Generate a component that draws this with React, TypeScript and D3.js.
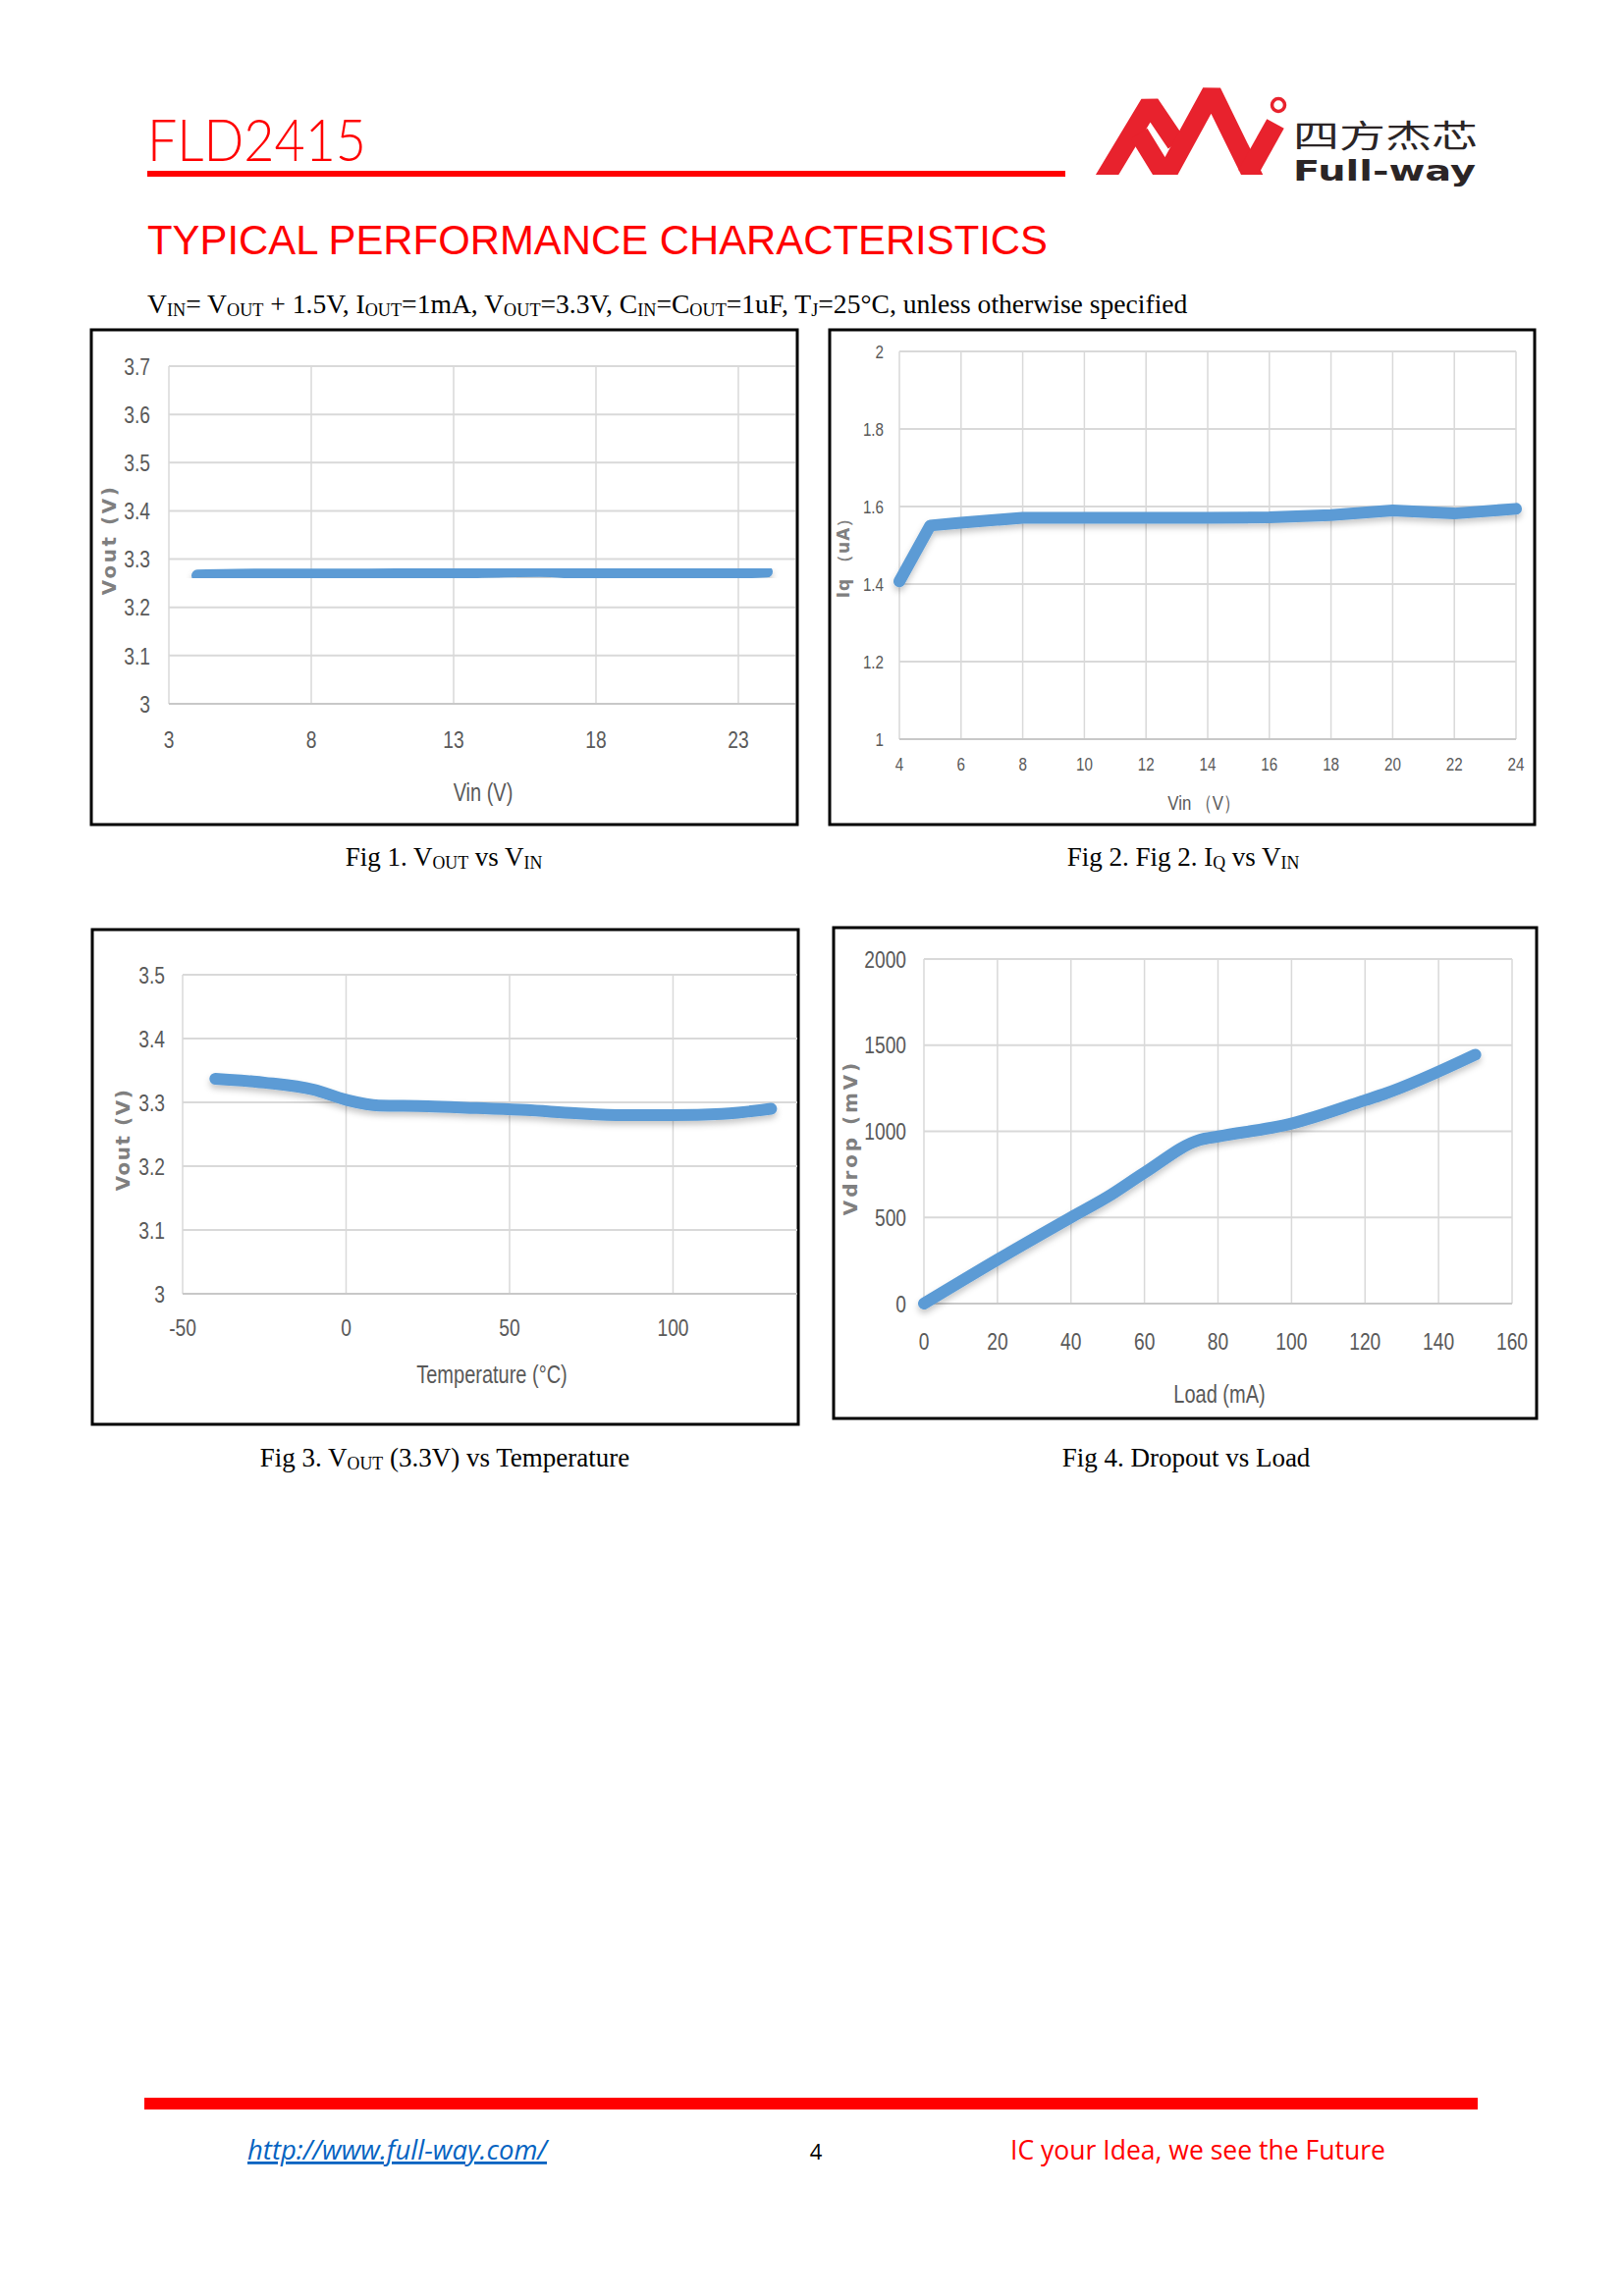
import { useMemo } from "react";
import * as d3 from "d3";

// Fig 1: Vout vs Vin
const fig1Vin = [4, 6, 8, 10, 12, 14, 16, 18, 20, 22, 24];
const fig1Vout = [3.266, 3.268, 3.268, 3.268, 3.269, 3.273, 3.275, 3.269, 3.269, 3.27, 3.274];
const fig1XTicks = [3, 8, 13, 18, 23];
const fig1YTicks = [3, 3.1, 3.2, 3.3, 3.4, 3.5, 3.6, 3.7];

// Fig 2: Iq vs Vin
const fig2Vin = [4, 5, 6, 8, 10, 12, 14, 16, 18, 20, 22, 24];
const fig2Iq = [1.407, 1.551, 1.558, 1.571, 1.571, 1.571, 1.571, 1.572, 1.578, 1.59, 1.582, 1.594];
const fig2XTicks = [4, 6, 8, 10, 12, 14, 16, 18, 20, 22, 24];
const fig2YTicks = [1, 1.2, 1.4, 1.6, 1.8, 2];

// Fig 3: Vout vs temperature
const fig3Temp = [-40, -25, -10, 0, 10, 25, 40, 55, 70, 85, 100, 115, 130];
const fig3Vout = [3.337, 3.331, 3.32, 3.304, 3.295, 3.294, 3.291, 3.288, 3.283, 3.28, 3.28, 3.282, 3.29];
const fig3XTicks = [-50, 0, 50, 100];
const fig3YTicks = [3, 3.1, 3.2, 3.3, 3.4, 3.5];

// Fig 4: dropout vs load
const fig4Load = [0, 20, 40, 50, 60, 75, 80, 100, 120, 125, 150];
const fig4Vdrop = [0, 255, 500, 620, 760, 950, 970, 1045, 1180, 1215, 1445];
const fig4XTicks = [0, 20, 40, 60, 80, 100, 120, 140, 160];
const fig4YTicks = [0, 500, 1000, 1500, 2000];

const TICK_FONT = "'Liberation Sans', Arial, sans-serif";
const LABEL_FONT = "'DejaVu Sans', Verdana, sans-serif";
const SERIF = "'Liberation Serif', 'Times New Roman', serif";
const GREY = "#595959";
const GRID = "#d9d9d9";
const BLUE = "#5b9bd5";
const NARROW = 0.8;

type Box = { x: number; y: number; w: number; h: number };
type Plot = { left: number; right: number; top: number; bottom: number };

// condensed text, squeezed horizontally like the original chart fonts
const CText = ({ x, y, anchor, size, children }: { x: number; y: number; anchor: string; size: number; children: any }) => (
  <text transform={`translate(${x},${y}) scale(${NARROW},1)`} dy="0.36em" textAnchor={anchor}
    fontFamily={TICK_FONT} fontSize={size} fill={GREY}>
    {children}
  </text>
);

type ChartProps = {
  box: Box;
  plot: Plot;
  xs: number[];
  ys: number[];
  xDomain: [number, number];
  yDomain: [number, number];
  xTicks: number[];
  yTicks: number[];
  yFmt: (v: number) => string;
  tickSize: number;
  xTickDy: number;
  yTickGap: number;
  xLabel: string;
  xLabelPos: [number, number];
  yLabel: string;
  yLabelPos: [number, number];
  labelSize: number;
  yLabelSize: number;
  yLabelSpacing: number;
  smooth: boolean;
  gridRight: number;
};

const Chart = (p: ChartProps) => {
  const x = useMemo(
    () => d3.scaleLinear().domain(p.xDomain).range([p.plot.left, p.plot.right]),
    [p.xDomain, p.plot]
  );
  const y = useMemo(
    () => d3.scaleLinear().domain(p.yDomain).range([p.plot.bottom, p.plot.top]),
    [p.yDomain, p.plot]
  );
  const pts = p.xs.map((v, i) => [v, p.ys[i]] as [number, number]);
  const line = d3
    .line<[number, number]>()
    .x((d) => x(d[0]))
    .y((d) => y(d[1]))
    .curve(p.smooth ? d3.curveMonotoneX : d3.curveLinear);

  return (
    <g>
      <rect x={p.box.x} y={p.box.y} width={p.box.w} height={p.box.h} fill="#fff" stroke="#000" strokeWidth={3} />
      {/* gridlines */}
      {p.yTicks.map((t) => (
        <line key={"h" + t} x1={p.plot.left} x2={p.gridRight} y1={y(t)} y2={y(t)} stroke={GRID} strokeWidth={2} />
      ))}
      {p.xTicks.map((t) => (
        <line key={"v" + t} x1={x(t)} x2={x(t)} y1={p.plot.top} y2={p.plot.bottom} stroke={GRID} strokeWidth={1.5} />
      ))}
      <line x1={p.plot.left} x2={p.gridRight} y1={p.plot.bottom} y2={p.plot.bottom} stroke="#c8c8c8" strokeWidth={2} />
      {/* tick labels */}
      {p.yTicks.map((t) => (
        <CText key={"yl" + t} x={p.plot.left - p.yTickGap} y={y(t)} anchor="end" size={p.tickSize}>
          {p.yFmt(t)}
        </CText>
      ))}
      {p.xTicks.map((t) => (
        <CText key={"xl" + t} x={x(t)} y={p.plot.bottom + p.xTickDy} anchor="middle" size={p.tickSize}>
          {t}
        </CText>
      ))}
      {/* axis titles */}
      <CText x={p.xLabelPos[0]} y={p.xLabelPos[1]} anchor="middle" size={p.labelSize}>
        {p.xLabel}
      </CText>
      <text transform={`translate(${p.yLabelPos[0]},${p.yLabelPos[1]}) rotate(-90)`} dy="0.36em" textAnchor="middle"
        fontFamily={LABEL_FONT} fontWeight="bold" fontSize={p.yLabelSize} letterSpacing={p.yLabelSpacing} fill="#7f7f7f">
        {p.yLabel}
      </text>
      {/* series */}
      <path d={line(pts) ?? ""} fill="none" stroke={BLUE} strokeWidth={12} strokeLinejoin="round"
        strokeLinecap="round" filter="url(#shadow)" />
    </g>
  );
};

const Sub = ({ children }: { children: string }) => (
  <tspan fontSize="0.66em" baselineShift="-3">{children}</tspan>
);

export default function App() {
  const fmt1 = (v: number) => (v === 3 ? "3" : v.toFixed(1));
  const fmt2 = (v: number) => (v === 1 || v === 2 ? String(v) : v.toFixed(1));
  return (
    <svg width={1654} height={2339} viewBox="0 0 1654 2339"
      style={{ position: "absolute", left: 0, top: 0, background: "#fff" }}>
      <defs>
        <filter id="shadow" x="-5%" y="-50%" width="110%" height="200%">
          <feDropShadow dx="0" dy="4" stdDeviation="3" floodColor="#000" floodOpacity="0.22" />
        </filter>
        <clipPath id="logoClip">
          <rect x={1110} y={80} width={200} height={98} />
        </clipPath>
      </defs>
      <rect width={1654} height={2339} fill="#fff" />

      {/* header */}
      <text x={150} y={164} fontFamily="Lato, 'Open Sans', sans-serif" fontWeight={300} fontSize={60}
        fill="#ff0000" textLength={223} lengthAdjust="spacingAndGlyphs">FLD2415</text>
      <rect x={150} y={174} width={935} height={6} fill="#ff0000" />

      {/* logo */}
      <g clipPath="url(#logoClip)" fill="none" stroke="#e8222d" strokeWidth={20} strokeLinejoin="bevel">
        <polyline points="1118,194 1171,106 1198,146" />
        <polyline points="1160,136 1187,180 1234,94 1281,190" />
        <polyline points="1270,178 1299,126" />
      </g>
      <circle cx={1302} cy={107} r={6.5} fill="none" stroke="#e8222d" strokeWidth={3.5} />
      <text x={1317} y={150} fontFamily="'Noto Sans CJK SC', sans-serif" fontSize={32} fill="#2b2526"
        textLength={188} lengthAdjust="spacingAndGlyphs">四方杰芯</text>
      <text x={1317} y={184} fontFamily="'DejaVu Sans', sans-serif" fontWeight="bold" fontSize={29} fill="#2b2526"
        textLength={186} lengthAdjust="spacingAndGlyphs">Full-way</text>

      <text x={150} y={259} fontFamily="'Liberation Sans', Arial, sans-serif" fontSize={42} fill="#ff0000"
        textLength={917} lengthAdjust="spacingAndGlyphs">TYPICAL PERFORMANCE CHARACTERISTICS</text>

      <text x={150} y={319} fontFamily={SERIF} fontSize={27.6} fill="#000">
        V<Sub>IN</Sub>= V<Sub>OUT</Sub> + 1.5V, I<Sub>OUT</Sub>=1mA, V<Sub>OUT</Sub>=3.3V, C<Sub>IN</Sub>=C<Sub>OUT</Sub>=1uF, T<Sub>J</Sub>=25°C, unless otherwise specified
      </text>

      <Chart box={{ x: 93, y: 336, w: 719, h: 504 }} plot={{ left: 172, right: 810, top: 373, bottom: 717 }}
        xs={fig1Vin} ys={fig1Vout} xDomain={[3, 25]} yDomain={[3, 3.7]} xTicks={fig1XTicks} yTicks={fig1YTicks}
        yFmt={fmt1} tickSize={24} xTickDy={36} yTickGap={19} xLabel="Vin (V)" xLabelPos={[492, 807]}
        yLabel="Vout (V)" yLabelPos={[111, 550]} labelSize={25} yLabelSize={20} yLabelSpacing={2.5}
        smooth={true} gridRight={810} />

      <Chart box={{ x: 845, y: 336, w: 718, h: 504 }} plot={{ left: 916, right: 1544, top: 358, bottom: 753 }}
        xs={fig2Vin} ys={fig2Iq} xDomain={[4, 24]} yDomain={[1, 2]} xTicks={fig2XTicks} yTicks={fig2YTicks}
        yFmt={fmt2} tickSize={19} xTickDy={25} yTickGap={16} xLabel="Vin （V）" xLabelPos={[1226, 817]}
        yLabel="Iq （uA）" yLabelPos={[859, 564]} labelSize={21} yLabelSize={17} yLabelSpacing={1}
        smooth={false} gridRight={1544} />

      <Chart box={{ x: 94, y: 947, w: 719, h: 504 }} plot={{ left: 186, right: 812, top: 993, bottom: 1318 }}
        xs={fig3Temp} ys={fig3Vout} xDomain={[-50, 138]} yDomain={[3, 3.5]} xTicks={fig3XTicks} yTicks={fig3YTicks}
        yFmt={fmt1} tickSize={24} xTickDy={34} yTickGap={18} xLabel="Temperature (°C)" xLabelPos={[501, 1400]}
        yLabel="Vout (V)" yLabelPos={[125, 1161]} labelSize={25} yLabelSize={20} yLabelSpacing={1.5}
        smooth={true} gridRight={812} />

      <Chart box={{ x: 849, y: 945, w: 716, h: 500 }} plot={{ left: 941, right: 1540, top: 977, bottom: 1328 }}
        xs={fig4Load} ys={fig4Vdrop} xDomain={[0, 160]} yDomain={[0, 2000]} xTicks={fig4XTicks} yTicks={fig4YTicks}
        yFmt={(v) => String(v)} tickSize={24} xTickDy={38} yTickGap={18} xLabel="Load (mA)" xLabelPos={[1242, 1420]}
        yLabel="Vdrop (mV)" yLabelPos={[866, 1159]} labelSize={25} yLabelSize={20} yLabelSpacing={2.9}
        smooth={true} gridRight={1540} />

      {/* captions */}
      <text x={452} y={882} textAnchor="middle" fontFamily={SERIF} fontSize={27}>
        Fig 1. V<Sub>OUT</Sub> vs V<Sub>IN</Sub>
      </text>
      <text x={1205} y={882} textAnchor="middle" fontFamily={SERIF} fontSize={27}>
        Fig 2. Fig 2. I<Sub>Q</Sub> vs V<Sub>IN</Sub>
      </text>
      <text x={453} y={1494} textAnchor="middle" fontFamily={SERIF} fontSize={27}>
        Fig 3. V<Sub>OUT</Sub> (3.3V) vs Temperature
      </text>
      <text x={1208} y={1494} textAnchor="middle" fontFamily={SERIF} fontSize={27}>
        Fig 4. Dropout vs Load
      </text>

      {/* footer */}
      <rect x={147} y={2137} width={1358} height={12} fill="#ff0000" />
      <text x={252} y={2200} fontFamily="'Open Sans', sans-serif" fontStyle="italic" fontSize={28} fill="#0563c1"
        textDecoration="underline" textLength={305} lengthAdjust="spacingAndGlyphs">http://www.full-way.com/</text>
      <text x={831} y={2200} textAnchor="middle" fontFamily="'Open Sans', sans-serif" fontSize={22} fill="#000">4</text>
      <text x={1029} y={2200} fontFamily="'Open Sans', sans-serif" fontSize={28} fill="#ff0000"
        textLength={382} lengthAdjust="spacingAndGlyphs">IC your Idea, we see the Future</text>
    </svg>
  );
}
